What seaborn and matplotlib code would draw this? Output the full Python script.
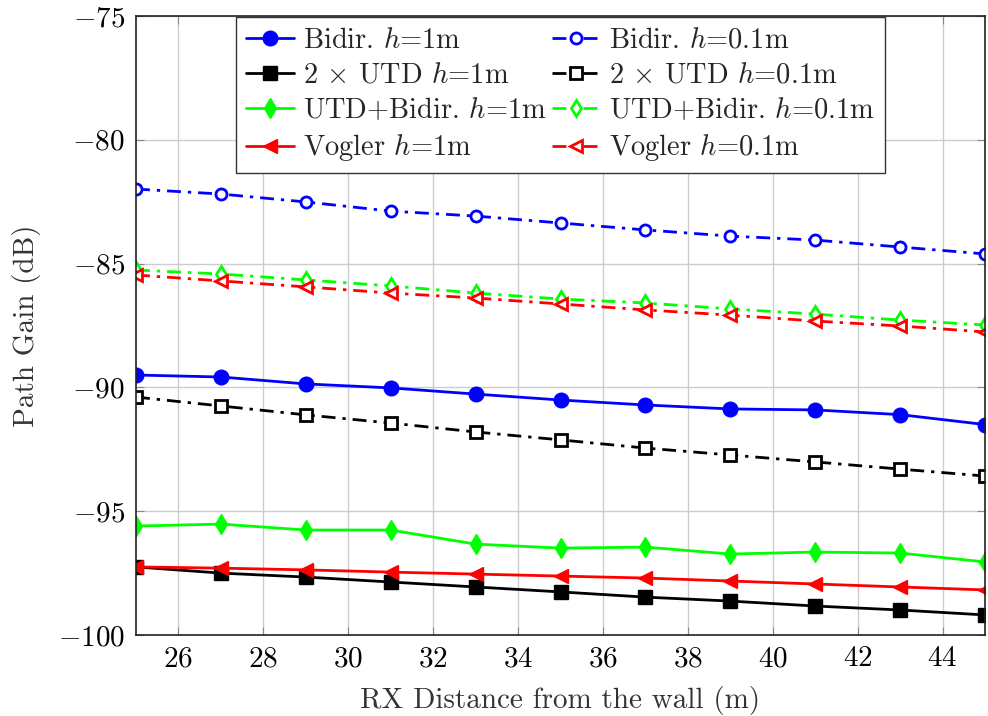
import matplotlib
matplotlib.use("Agg")
import matplotlib.pyplot as plt
import seaborn as sns
import numpy as np
import pandas as pd

x = [25, 27, 29, 31, 33, 35, 37, 39, 41, 43, 45]

bidir_1m = [-89.50, -89.58, -89.86, -90.02, -90.27, -90.51, -90.71, -90.87, -90.91, -91.10, -91.50]
bidir_01m = [-81.99, -82.19, -82.51, -82.88, -83.08, -83.36, -83.64, -83.89, -84.05, -84.33, -84.61]
utd2_1m = [-97.25, -97.50, -97.66, -97.86, -98.06, -98.26, -98.47, -98.63, -98.83, -98.99, -99.19]
utd2_01m = [-90.39, -90.75, -91.11, -91.44, -91.80, -92.12, -92.45, -92.73, -93.01, -93.30, -93.58]
utdbidir_1m = [-95.60, -95.52, -95.76, -95.76, -96.33, -96.49, -96.45, -96.73, -96.65, -96.69, -97.05]
utdbidir_01m = [-85.26, -85.42, -85.66, -85.90, -86.19, -86.43, -86.59, -86.83, -87.04, -87.28, -87.48]
vogler_1m = [-97.25, -97.30, -97.37, -97.46, -97.54, -97.62, -97.70, -97.82, -97.94, -98.06, -98.18]
vogler_01m = [-85.46, -85.70, -85.94, -86.19, -86.39, -86.63, -86.87, -87.08, -87.32, -87.52, -87.76]

x_ticks = [26, 28, 30, 32, 34, 36, 38, 40, 42, 44]
y_ticks = [-100, -95, -90, -85, -80, -75]

sns.set_style("ticks")
plt.rcParams['font.family'] = ['cmr10', 'DejaVu Serif']
plt.rcParams['mathtext.fontset'] = 'cm'
plt.rcParams['axes.formatter.use_mathtext'] = True
plt.rcParams['axes.unicode_minus'] = True

fig = plt.figure(figsize=(9.88, 7.16), dpi=100)
ax = fig.add_axes([136/988, 1-635/716, (985-136)/988, (635-16)/716])

dashdot = (0, (5, 2.5, 1.2, 2.5))
series = [
    ("Bidir. $h$=1m", bidir_1m, "blue", "o", "-", True),
    ("Bidir. $h$=0.1m", bidir_01m, "blue", "o", dashdot, False),
    (r"2 $\times$ UTD $h$=1m", utd2_1m, "black", "s", "-", True),
    (r"2 $\times$ UTD $h$=0.1m", utd2_01m, "black", "s", dashdot, False),
    ("UTD+Bidir. $h$=1m", utdbidir_1m, "#00ff00", "d", "-", True),
    ("UTD+Bidir. $h$=0.1m", utdbidir_01m, "#00ff00", "d", dashdot, False),
    ("Vogler $h$=1m", vogler_1m, "red", "<", "-", True),
    ("Vogler $h$=0.1m", vogler_01m, "red", "<", dashdot, False),
]

handles = []
for lab, vals, col, mk, ls, filled in series:
    df = pd.DataFrame({"x": x, "y": vals})
    sns.lineplot(data=df, x="x", y="y", ax=ax, color=col, marker=mk,
                 linestyle=ls, linewidth=2.0,
                 markersize=10.5 if filled else 8,
                 markerfacecolor=col if filled else "white",
                 markeredgecolor=col, markeredgewidth=1.0 if filled else 2.0,
                 label=lab, legend=False)
    handles.append(ax.get_lines()[-1])

ax.set_xlim(25, 45)
ax.set_ylim(-100, -75)
ax.set_xticks(x_ticks)
ax.set_yticks(y_ticks)
ax.grid(True, color="#cccccc", linewidth=1.0)
ax.tick_params(direction="in", top=True, right=True, labelsize=21, length=6, width=0.8,
               colors="#888888", labelcolor="black", pad=8)
for s in ax.spines.values():
    s.set_linewidth(1.2)
    s.set_color("#222222")
ax.set_xlabel("RX Distance from the wall (m)", fontsize=21, color="#333333", labelpad=10)
ax.set_ylabel("Path Gain (dB)", fontsize=21, color="#333333", labelpad=12)

order = [0, 2, 4, 6, 1, 3, 5, 7]
leg = ax.legend([handles[i] for i in order], [series[i][0] for i in order],
                loc="upper center", bbox_to_anchor=(0.5, 1.0), ncol=2, fontsize=20.5,
                frameon=True, fancybox=False, edgecolor="#333333", framealpha=1,
                handlelength=1.7, handletextpad=0.3, columnspacing=0.2,
                labelspacing=0.3, borderpad=0.35, borderaxespad=0.05)
leg.get_frame().set_linewidth(1.0)

fig.savefig("out.png", dpi=100)
